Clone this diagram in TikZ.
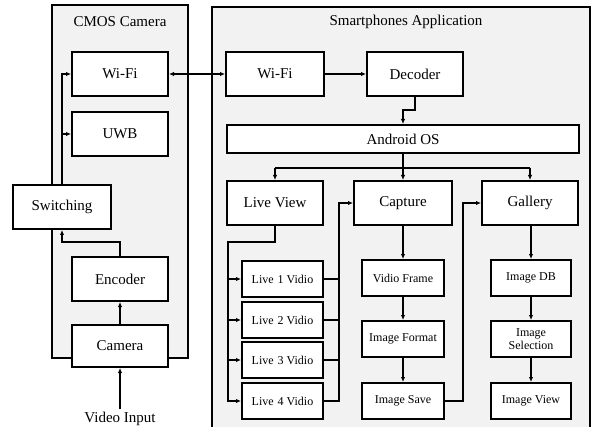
\documentclass[tikz,border=0pt]{standalone}
\usepackage{fontspec}
\setmainfont{Liberation Serif}
\usetikzlibrary{arrows.meta}
\definecolor{panel}{HTML}{F2F2F2}
\tikzset{
  blk/.style={draw, fill=white, line width=2pt, inner sep=0pt, font=\fontsize{15}{17}\selectfont, minimum width=96pt, minimum height=44pt},
  sblk/.style={draw, fill=white, line width=2pt, inner sep=0pt, font=\fontsize{12}{13.5}\selectfont, minimum width=81pt, minimum height=36pt, align=center},
  panelbox/.style={draw, fill=panel, line width=2pt},
  ttl/.style={font=\fontsize{15}{17}\selectfont, inner sep=1pt},
  conn/.style={line width=2pt},
  arr/.style={line width=2pt, -{Latex[length=5pt,width=4.5pt]}},
}
\begin{document}
\begin{tikzpicture}[x=1pt,y=-1pt]
\useasboundingbox (0,0) rectangle (593,427);
\clip (0,0) rectangle (593,427);
\fill[white] (0,0) rectangle (593,427);
% panels
\draw[panelbox] (52,5) rectangle (188,358);
\draw[panelbox] (212,7) rectangle (590,445);
\node[ttl] (t1) at (120,22) {CMOS Camera};
\node[ttl] (t2) at (406,22) {Smartphones Application};
% camera side
\node[blk] (camwifi) at (120,74) {Wi-Fi};
\node[blk] (uwb) at (120,134) {UWB};
\node[blk, minimum width=98pt] (switching) at (62,207) {Switching};
\node[blk] (encoder) at (120,279) {Encoder};
\node[blk, minimum height=42pt] (camera) at (120,346) {Camera};
\node[ttl, anchor=base, inner sep=0pt] (vin) at (120,422.5) {Video Input};
% phone side
\node[blk, minimum width=98pt] (phwifi) at (275,74) {Wi-Fi};
\node[blk] (decoder) at (415,74) {Decoder};
\node[blk, minimum width=352pt, minimum height=28pt] (android) at (403,139) {Android OS};
\node[blk] (liveview) at (275,203) {Live View};
\node[blk, minimum width=98pt] (capture) at (403,203) {Capture};
\node[blk] (gallery) at (530,203) {Gallery};
\node[sblk] (live1) at (282.5,279) {Live\,\,1 Vidio};
\node[sblk] (live2) at (282.5,320) {Live\,\,2 Vidio};
\node[sblk] (live3) at (282.5,360) {Live\,\,3 Vidio};
\node[sblk] (live4) at (282.5,401) {Live\,\,4 Vidio};
\node[sblk, minimum width=82pt] (vframe) at (403,278) {Vidio Frame};
\node[sblk, minimum width=82pt] (iformat) at (403,339) {Image Format};
\node[sblk, minimum width=82pt] (isave) at (403,401) {Image Save};
\node[sblk, minimum width=80pt] (idb) at (531,278) {Image DB};
\node[sblk, minimum width=80pt] (isel) at (531,339) {Image\\Selection};
\node[sblk, minimum width=80pt] (iview) at (531,401) {Image View};
% helper coordinates
\coordinate (encup) at (120,242);
\coordinate (dm) at (403,110);
\coordinate (bus) at (403,168);
\coordinate (lvx) at (228,242);
\coordinate (rx) at (339,203);
\coordinate (sx) at (463,203);
\coordinate (vintop) at (120,409);
% camera connectors
\draw[arr, {Latex[length=5pt,width=4.5pt]}-{Latex[length=5pt,width=4.5pt]}] (camwifi.east) -- (phwifi.west);
\draw[arr] (switching.north) |- (camwifi.west);
\draw[arr] (switching.north |- uwb.west) -- (uwb.west);
\draw[arr] (encoder.north) -- (encoder.north |- encup) -| (switching.south);
\draw[arr] (camera.north) -- (encoder.south);
\draw[arr] (vintop) -- (camera.south);
% phone connectors
\draw[arr] (phwifi.east) -- (decoder.west);
\draw[arr] (decoder.south) |- (dm) -- (android.north);
\draw[arr] (android.south) -- (capture.north);
\draw[conn] (liveview.north |- bus) -- (gallery.north |- bus);
\draw[arr] (liveview.north |- bus) -- (liveview.north);
\draw[arr] (gallery.north |- bus) -- (gallery.north);
\draw[arr] (liveview.south) |- (lvx) |- (live4.west);
\draw[arr] (live1.west -| lvx) -- (live1.west);
\draw[arr] (live2.west -| lvx) -- (live2.west);
\draw[arr] (live3.west -| lvx) -- (live3.west);
\draw[arr] (live4.east) -| (rx) -- (capture.west);
\draw[conn] (live1.east) -- (live1.east -| rx);
\draw[conn] (live2.east) -- (live2.east -| rx);
\draw[conn] (live3.east) -- (live3.east -| rx);
\draw[arr] (capture.south) -- (vframe.north);
\draw[arr] (vframe.south) -- (iformat.north);
\draw[arr] (iformat.south) -- (isave.north);
\draw[arr] (isave.east) -| (sx) -- (gallery.west);
\draw[arr] (gallery.south -| idb.north) -- (idb.north);
\draw[arr] (idb.south) -- (isel.north);
\draw[arr] (isel.south) -- (iview.north);
\end{tikzpicture}
\end{document}
